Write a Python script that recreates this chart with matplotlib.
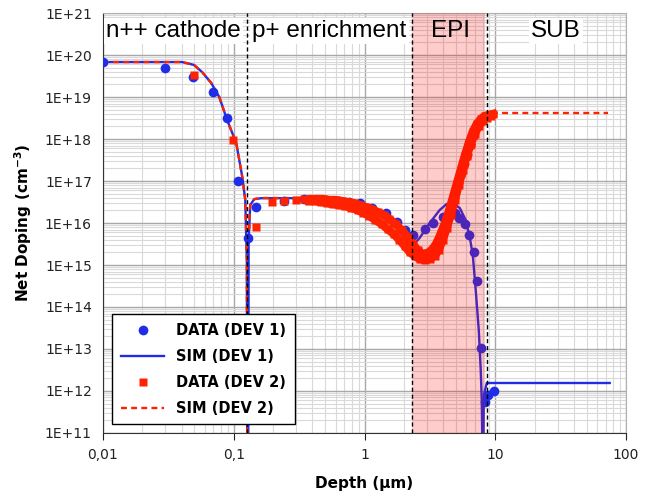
import matplotlib.pyplot as plt
import matplotlib.ticker as mticker

# Depth in um, net doping in cm^-3
# simulated n++ cathode profile (same for both devices)
sim_cathode_depth = [0.01, 0.0403, 0.0497, 0.0574, 0.0673, 0.0775, 0.0891, 0.1045, 0.1162, 0.1225, 0.1259, 0.127]
sim_cathode_dop = [6.8e19, 6.8e19, 5.8e19, 3.9e19, 2.15e19, 1.0e19, 2.8e18, 8.0e17, 1.25e17, 3.5e16, 1.3e15, 1e10]

# SIM (DEV 1), p side + EPI
sim1_depth = [0.129, 0.130, 0.1337, 0.1437, 0.1627, 0.318, 0.539, 0.767, 0.965, 1.19, 1.47, 1.76, 2.03,
              2.29, 2.64, 3.15, 3.76, 4.25, 4.72, 5.35, 5.94, 6.38, 6.73, 7.09, 7.48, 7.74, 7.88, 8.02]
sim1_dop = [1e10, 3.9e15, 2.7e16, 3.7e16, 3.9e16, 3.9e16, 3.7e16, 3.5e16, 3.0e16, 2.28e16, 1.39e16, 7.6e15, 4.4e15,
            2.7e15, 4.4e15, 1.0e16, 2.04e16, 2.83e16, 3.0e16, 2.28e16, 1.18e16, 4.6e15, 1.73e15, 2.5e14, 2.8e13,
            3.2e12, 6.1e11, 1e10]
# SIM (DEV 1), substrate
sim1_sub_depth = [8.1, 8.17, 8.61, 75]
sim1_sub_dop = [1e10, 8.0e11, 1.55e12, 1.55e12]

# SIM (DEV 2), p side + EPI + substrate
sim2_depth = [0.130, 0.1337, 0.1437, 0.1627, 0.318, 0.539, 0.767, 1.0, 1.30, 1.64, 1.96, 2.29, 2.55, 2.88,
              3.26, 3.76, 4.33, 4.90, 5.54, 6.38, 7.22, 8.02, 8.92, 10.3, 72.8]
sim2_dop = [3.94e15, 2.68e16, 3.73e16, 3.94e16, 3.94e16, 3.53e16, 3.16e16, 2.54e16, 1.64e16, 8.5e15, 4.4e15,
            2.4e15, 1.64e15, 1.47e15, 1.83e15, 3.34e15, 9.0e15, 2.68e16, 8.0e16, 3.16e17, 1.06e18, 2.28e18,
            3.34e18, 4.16e18, 4.16e18]

# DATA (DEV 1)
data1_depth = [0.0100, 0.030, 0.049, 0.0697, 0.089, 0.108, 0.129, 0.1485, 0.244, 0.347, 0.436, 0.539, 0.643,
               0.767, 0.916, 1.15, 1.47, 1.76, 2.03, 2.33, 2.88, 3.32, 3.96, 4.90, 5.25, 5.84, 6.27, 6.84,
               7.21, 7.74, 8.31, 8.77, 9.75]
data1_dop = [6.8e19, 4.9e19, 3.0e19, 1.3e19, 3.2e18, 1.0e17, 4.4e15, 2.4e16, 3.3e16, 3.7e16, 3.5e16, 3.16e16,
             3.0e16, 3.16e16, 3.0e16, 2.3e16, 1.7e16, 1.06e16, 6.8e15, 5.2e15, 7.2e15, 1.0e16, 1.39e16, 1.73e16,
             1.32e16, 9.5e15, 5.2e15, 2.0e15, 4.2e14, 1.05e13, 5.5e11, 8.0e11, 1.0e12]

# DATA (DEV 2): isolated points plus two dense, overlapping scans
data2_depth = [0.0498, 0.0991, 0.1487, 0.197, 0.244, 0.301, 0.347]
data2_dop = [3.34e19, 9.5e17, 8.0e15, 3.16e16, 3.34e16, 3.53e16, 3.73e16]

scan_a_depth = [0.393, 0.436, 0.485, 0.539, 0.600, 0.667, 0.741, 0.824, 0.916, 1.02, 1.13, 1.26, 1.40, 1.55,
                1.73, 1.92, 2.14, 2.33, 2.55, 2.78, 3.04, 3.32, 3.56, 3.82, 4.10, 4.40, 4.73, 5.07, 5.44,
                5.84, 6.27, 6.72, 7.22, 7.74, 8.31, 8.92, 9.57]
scan_a_dop = [3.73e16, 3.73e16, 3.73e16, 3.53e16, 3.53e16, 3.34e16, 3.16e16, 2.99e16, 2.68e16, 2.40e16, 2.15e16,
              1.83e16, 1.55e16, 1.25e16, 9.5e15, 6.8e15, 4.6e15, 3.16e15, 2.28e15, 1.83e15, 1.93e15, 2.40e15,
              3.34e15, 5.5e15, 9.5e15, 1.83e16, 3.94e16, 8.5e16, 1.83e17, 3.94e17, 8.0e17, 1.47e18, 2.28e18,
              2.99e18, 3.53e18, 3.73e18, 3.94e18]

scan_b_depth = [0.379, 0.421, 0.468, 0.520, 0.579, 0.643, 0.715, 0.795, 0.884, 0.982, 1.09, 1.21, 1.35, 1.50,
                1.67, 1.85, 2.03, 2.21, 2.42, 2.64, 2.88, 3.15, 3.44, 3.69, 3.96, 4.25, 4.56, 4.90, 5.25,
                5.64, 6.05, 6.49, 6.97, 7.47, 8.02, 8.61, 9.24]
scan_b_dop = [3.34e16, 3.34e16, 3.16e16, 2.99e16, 2.83e16, 2.68e16, 2.54e16, 2.28e16, 2.04e16, 1.73e16, 1.47e16,
              1.18e16, 9.5e15, 7.2e15, 5.5e15, 3.94e15, 2.83e15, 2.04e15, 1.64e15, 1.39e15, 1.32e15, 1.39e15,
              1.64e15, 2.28e15, 3.94e15, 7.6e15, 1.55e16, 3.53e16, 8.0e16, 1.83e17, 3.94e17, 7.6e17, 1.32e18,
              2.04e18, 2.68e18, 3.16e18, 3.53e18]

# region boundaries (um)
junction = 0.127
epi_start = 2.29
epi_end = 8.6

x_ticks = [0.01, 0.1, 1, 10, 100]
x_ticklabels = ['0,01', '0,1', '1', '10', '100']
y_ticks = [10.0 ** e for e in range(11, 22)]
y_ticklabels = ['1E+%d' % e for e in range(11, 22)]

blue = '#1f2ee6'
red = '#ff2200'

fig = plt.figure(figsize=(6.49, 4.97), dpi=100)
ax = fig.add_axes([0.1587, 0.1288, 0.8059, 0.845])
ax.set_xscale('log')
ax.set_yscale('log')
ax.set_xlim(0.01, 100)
ax.set_ylim(1e11, 1e21)

# grid
ax.xaxis.set_minor_locator(mticker.LogLocator(base=10, subs=range(2, 10), numticks=20))
ax.yaxis.set_minor_locator(mticker.LogLocator(base=10, subs=range(2, 10), numticks=20))
ax.grid(True, which='major', color='#a8a8a8', linewidth=1.0, zorder=0)
ax.grid(True, which='minor', color='#d9d9d9', linewidth=0.8, zorder=0)
ax.set_axisbelow(True)

# simulated profiles
ax.plot(sim_cathode_depth, sim_cathode_dop, color=blue, lw=1.7, zorder=3)
ax.plot(sim1_depth, sim1_dop, color=blue, lw=1.7, zorder=3, label='SIM (DEV 1)')
ax.plot(sim1_sub_depth, sim1_sub_dop, color=blue, lw=1.7, zorder=3)
ax.plot(sim_cathode_depth, sim_cathode_dop, color=red, lw=1.7, ls=(0, (2.5, 1.8)), zorder=3)
ax.plot(sim2_depth, sim2_dop, color=red, lw=1.7, ls=(0, (2.5, 1.8)), zorder=3, label='SIM (DEV 2)')

# measured profiles
ax.plot(data1_depth, data1_dop, 'o', color=blue, ms=7, mec='none', zorder=4, label='DATA (DEV 1)')
ax.plot(data2_depth, data2_dop, 's', color=red, ms=5.5, mec='none', zorder=5, label='DATA (DEV 2)')
# the scans are sampled so densely that the squares merge into a band
for sd, sn in ((scan_a_depth, scan_a_dop), (scan_b_depth, scan_b_dop)):
    ax.plot(sd, sn, 's-', color=red, ms=6, lw=6, mec='none', zorder=5)

# EPI layer shading and region boundaries
ax.axvspan(epi_start, 8.3, color='#ff0000', alpha=0.2, lw=0, zorder=6)
for xb in (junction, epi_start, epi_end):
    ax.axvline(xb, color='black', lw=1.0, ls=(0, (3, 2)), zorder=7)

label_font = dict(fontsize=17.5, family='Liberation Sans', zorder=8)
box = dict(facecolor='white', edgecolor='none', pad=1.5)
ax.text(0.0106, 2.7e20, 'n++ cathode', va='baseline', ha='left', bbox=box, **label_font)
ax.text(0.139, 2.7e20, 'p+ enrichment', va='baseline', ha='left', bbox=box, **label_font)
ax.text(4.56, 2.7e20, 'EPI', va='baseline', ha='center', **label_font)
ax.text(29.1, 2.7e20, 'SUB', va='baseline', ha='center', bbox=box, **label_font)

# axes styling
ax.set_xticks(x_ticks)
ax.set_xticklabels(x_ticklabels)
ax.set_yticks(y_ticks)
ax.set_yticklabels(y_ticklabels)
ax.tick_params(which='major', direction='out', length=5, labelsize=10, colors='#222222', pad=6)
ax.tick_params(which='minor', length=0)
ax.tick_params(axis='y', length=0, pad=8)
for side in ('top', 'right'):
    ax.spines[side].set_color('#b0b0b0')
for side in ('left', 'bottom'):
    ax.spines[side].set_color('#333333')

ax.set_xlabel('Depth (\u00b5m)', fontsize=11, fontweight='bold', labelpad=10)
ax.set_ylabel('Net Doping (cm$^{\\mathbf{-3}}$)', fontsize=11, fontweight='bold', labelpad=8)

handles, labels = ax.get_legend_handles_labels()
order = ['DATA (DEV 1)', 'SIM (DEV 1)', 'DATA (DEV 2)', 'SIM (DEV 2)']
hmap = dict(zip(labels, handles))
leg = ax.legend([hmap[k] for k in order], order, loc='upper left', bbox_to_anchor=(0.017, 0.283),
                borderaxespad=0, numpoints=1, handlelength=3.0, labelspacing=0.75, borderpad=0.6,
                fancybox=False, framealpha=1, edgecolor='black', prop=dict(weight='bold', size=10.5))
leg.get_frame().set_linewidth(1.0)
leg.set_zorder(10)

plt.savefig('out.png', dpi=100)
